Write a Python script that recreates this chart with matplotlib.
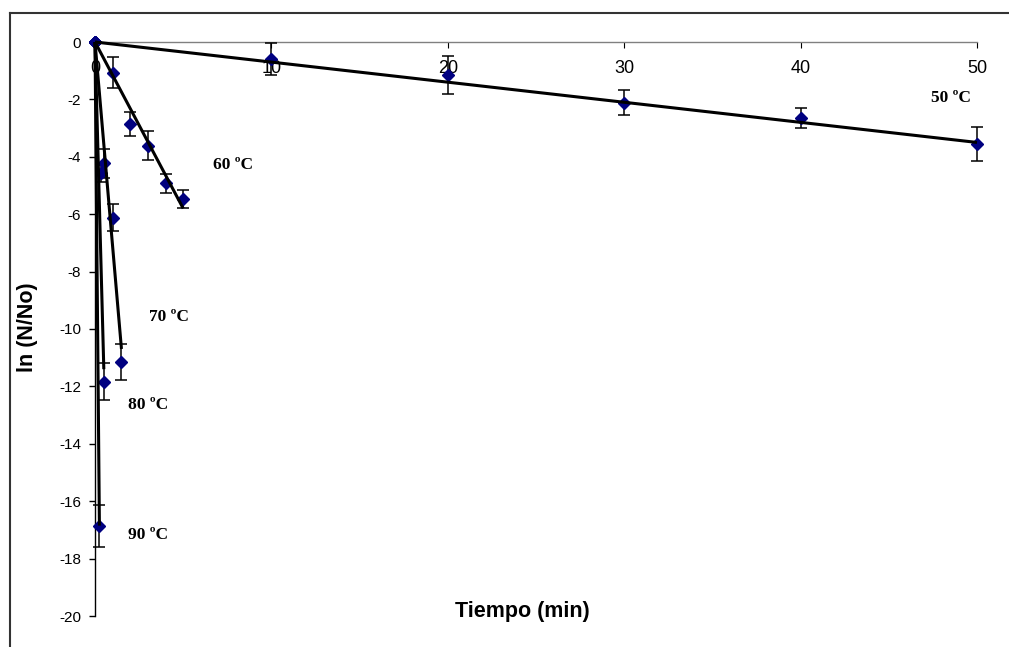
import matplotlib.pyplot as plt
from matplotlib.lines import Line2D

plt.rcParams["axes.unicode_minus"] = False

# datos: tiempo (min), ln(N/No), error
t50 = [0, 10, 20, 30, 40, 50]
y50 = [0, -0.60, -1.15, -2.11, -2.65, -3.55]
e50 = [0, 0.55, 0.67, 0.44, 0.35, 0.58]

t60 = [0, 1, 2, 3, 4, 5]
y60 = [0, -1.07, -2.86, -3.61, -4.92, -5.48]
e60 = [0, 0.53, 0.42, 0.50, 0.33, 0.31]

t70 = [0, 0.5, 1.0, 1.5]
y70 = [0, -4.23, -6.12, -11.15]
e70 = [0, 0.50, 0.46, 0.64]

t80 = [0, 0.33, 0.5]
y80 = [0, -4.58, -11.83]
e80 = [0, 0.30, 0.63]

t90 = [0, 0.25]
y90 = [0, -16.86]
e90 = [0, 0.74]

# pendientes de las rectas de ajuste
k50, k60, k70, k80, k90 = -0.07, -1.16, -7.13, -22.8, -67.4

series = [
    (t50, y50, e50, k50, "50 ºC", (48.5, -1.95)),
    (t60, y60, e60, k60, "60 ºC", (7.8, -4.29)),
    (t70, y70, e70, k70, "70 ºC", (4.2, -9.58)),
    (t80, y80, e80, k80, "80 ºC", (3.0, -12.65)),
    (t90, y90, e90, k90, "90 ºC", (3.0, -17.18)),
]

fig = plt.figure(figsize=(10.09, 6.47), dpi=100)
ax = fig.add_axes([95 / 1009, 1 - 616 / 647, (977 - 95) / 1009, (616 - 42) / 647])

for t, y, e, k, nombre, pos in series:
    ax.errorbar(t, y, yerr=e, fmt="D", color="#000080", ms=6.5, ecolor="black",
                elinewidth=1.1, capsize=4.5, capthick=1.1, clip_on=False, zorder=3)
    ax.plot([0, t[-1]], [0, k * t[-1]], color="black", lw=2.2, zorder=4,
            solid_capstyle="butt", clip_on=False)
    ax.text(pos[0], pos[1], nombre, fontsize=12.5, fontweight="bold",
            family="Liberation Serif", ha="center", va="center")

ax.set_xlim(0, 50)
ax.set_ylim(-20, 0)
ax.set_xticks(range(0, 51, 10))
ax.set_yticks(range(-20, 1, 2))

ax.spines["right"].set_visible(False)
ax.spines["bottom"].set_visible(False)
ax.spines["top"].set_color("#808080")
ax.spines["top"].set_linewidth(1.0)
ax.spines["left"].set_color("black")
ax.spines["left"].set_linewidth(1.0)

ax.tick_params(axis="x", top=True, bottom=False, labeltop=True, labelbottom=False,
               direction="in", length=4, color="black", pad=-25, labelsize=13)
ax.tick_params(axis="y", direction="out", length=4, width=1, pad=6, labelsize=11)
for lbl in ax.get_xticklabels() + ax.get_yticklabels():
    lbl.set_family("Liberation Sans")

fig.text(522 / 1009, 1 - 612 / 647, "Tiempo (min)", fontsize=15.5, fontweight="bold",
         family="Liberation Sans", ha="center", va="center")
fig.text(28 / 1009, 1 - 327 / 647, "ln (N/No)", fontsize=15.5, fontweight="bold",
         family="Liberation Sans", ha="center", va="center", rotation=90)

# borde del area del grafico
fig.add_artist(Line2D([10 / 1009, 1], [1 - 13 / 647] * 2, color="#333333", lw=1.5))
fig.add_artist(Line2D([10 / 1009] * 2, [0, 1 - 13 / 647], color="#333333", lw=1.5))

fig.savefig("out.png", dpi=100)
